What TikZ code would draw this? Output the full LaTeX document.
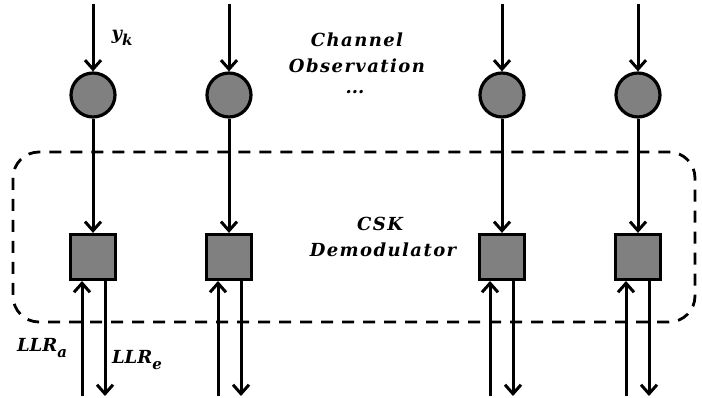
\documentclass[tikz,border=0pt]{standalone}
\usepackage{fontspec}
\setmainfont{DejaVu Serif}
\usetikzlibrary{arrows.meta}
\begin{document}
\begin{tikzpicture}[x=1pt,y=-1pt,
  obs/.style={circle,draw=black,line width=3.2pt,fill=black!50,minimum size=44pt,inner sep=0pt},
  demod/.style={rectangle,draw=black,line width=3.2pt,fill=black!50,minimum size=45pt,inner sep=0pt},
  conn/.style={line width=3pt,-{Straight Barb[length=9pt,width=16pt,line width=3pt]}},
  lbl/.style={font=\fontsize{18}{22}\selectfont\bfseries\itshape,align=center,inner sep=0pt},
  wide/.style={lbl,font=\fontsize{18}{22}\selectfont\bfseries\itshape\addfontfeatures{LetterSpace=8}},
  dashbox/.style={line width=2.8pt,dash pattern=on 12pt off 9pt,rounded corners=26pt}]
\useasboundingbox (0,0) rectangle (702,398);
% dashed region
\draw[dashbox] (13,152) rectangle (695,322);
% columns
\foreach \i/\x/\u/\d in {1/93/82/105, 2/229/218/241, 3/502/490/513, 4/638/626/649}{
  \coordinate (top\i) at (\x,4);
  \node[obs] (c\i) at (\x,95) {};
  \node[demod] (s\i) at (\x,257) {};
  \coordinate (ua\i) at (\u,396);
  \coordinate (ub\i) at (\u,281);
  \coordinate (da\i) at (\d,281);
  \coordinate (db\i) at (\d,396);
  \draw[conn] (top\i) -- (c\i.north);
  \draw[conn] (c\i.south) -- (s\i.north);
  \draw[conn] (ua\i) -- (ub\i);
  \draw[conn] (da\i) -- (db\i);
}
\newcommand\lsub[1]{\raisebox{-0.3em}{\fontsize{15}{15}\selectfont #1}}
\node[lbl] (yk) at (122,38) {y\lsub{k}};
\node[wide] (ch) at (357,40) {Channel};
\node[wide] (ob) at (357,66) {Observation};
\node[lbl] (dots) at (355,92) {...};
\node[wide] (csk) at (380,224) {CSK};
\node[wide] (dem) at (383,250) {Demodulator};
\node[lbl] (llra) at (42,348) {LLR\lsub{a}};
\node[lbl] (llre) at (137,360) {LLR\lsub{e}};
\end{tikzpicture}
\end{document}
